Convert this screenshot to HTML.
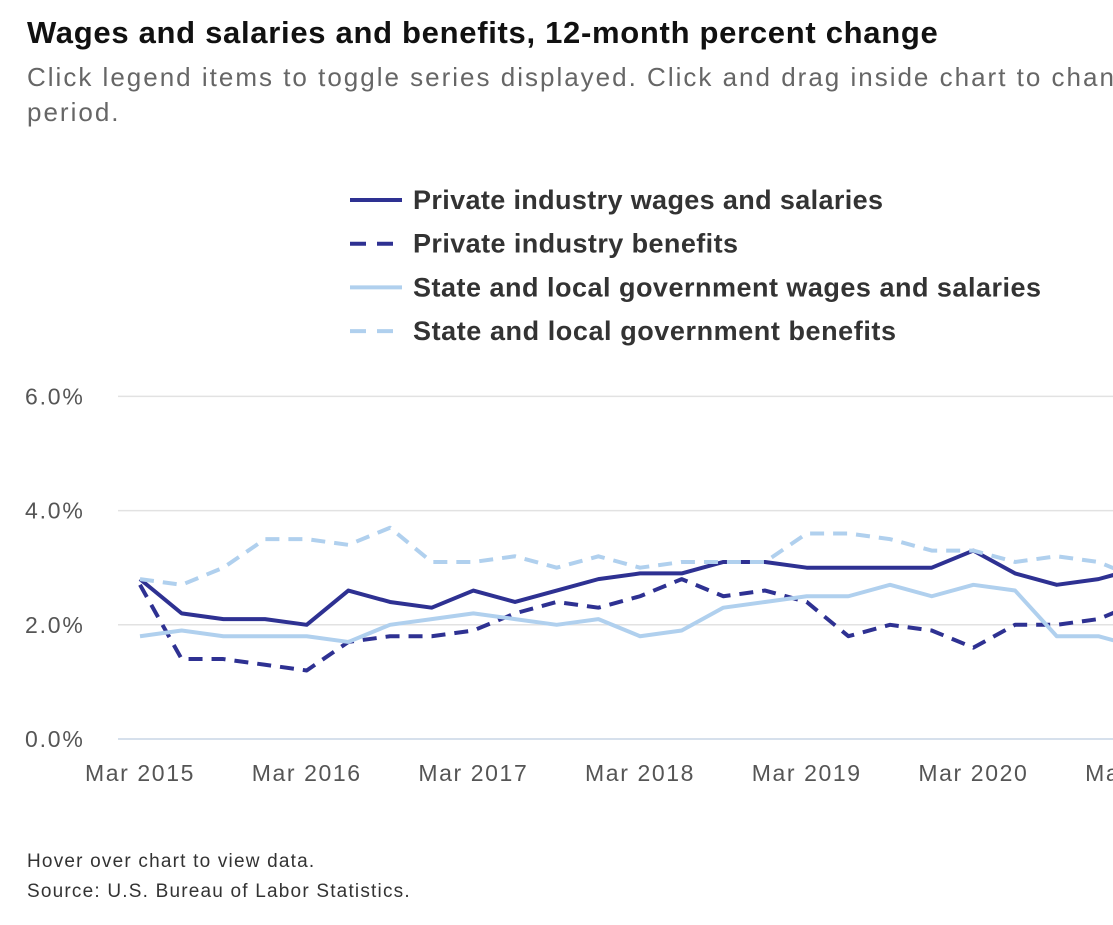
<!DOCTYPE html>
<html><head><meta charset="utf-8"><style>
body{margin:0;width:1113px;height:925px;overflow:hidden;background:#fff;font-family:"Liberation Sans",sans-serif;position:relative}
.t{position:absolute;left:27px;top:15px;font-size:31px;font-weight:bold;color:#111;white-space:nowrap;letter-spacing:0.7px}
.s{position:absolute;left:27px;top:60px;width:1086px;overflow:hidden;font-size:26px;color:#666;line-height:35px;white-space:nowrap;letter-spacing:2.0px}
.f{position:absolute;left:27px;font-size:19px;color:#333;white-space:nowrap;letter-spacing:1.2px}
</style></head><body>
<div class="t">Wages and salaries and benefits, 12-month percent change</div>
<div class="s">Click legend items to toggle series displayed. Click and drag inside chart to change the time<br>period.</div>
<svg id="c" width="1113" height="925" style="position:absolute;left:0;top:0"></svg>
<div class="f" style="top:851px">Hover over chart to view data.</div>
<div class="f" style="top:881px">Source: U.S. Bureau of Labor Statistics.</div>
<script>
const yTicks=[0,2,4,6];
const xLabels=["Mar 2015","Mar 2016","Mar 2017","Mar 2018","Mar 2019","Mar 2020","Mar 2021"];
const seriesNames=["Private industry wages and salaries","Private industry benefits","State and local government wages and salaries","State and local government benefits"];
const privWages=[2.8,2.2,2.1,2.1,2.0,2.6,2.4,2.3,2.6,2.4,2.6,2.8,2.9,2.9,3.1,3.1,3.0,3.0,3.0,3.0,3.3,2.9,2.7,2.8,3.0];
const privBenefits=[2.7,1.4,1.4,1.3,1.2,1.7,1.8,1.8,1.9,2.2,2.4,2.3,2.5,2.8,2.5,2.6,2.4,1.8,2.0,1.9,1.6,2.0,2.0,2.1,2.4];
const stateWages=[1.8,1.9,1.8,1.8,1.8,1.7,2.0,2.1,2.2,2.1,2.0,2.1,1.8,1.9,2.3,2.4,2.5,2.5,2.7,2.5,2.7,2.6,1.8,1.8,1.6];
const stateBenefits=[2.8,2.7,3.0,3.5,3.5,3.4,3.7,3.1,3.1,3.2,3.0,3.2,3.0,3.1,3.1,3.1,3.6,3.6,3.5,3.3,3.3,3.1,3.2,3.1,2.8];
const legendWidths=[470,325,628,483];
const svg=document.getElementById('c');const NS='http://www.w3.org/2000/svg';
const x=i=>140+i*41.67, y=v=>739-v*57.1;
function mk(t,a){const e=document.createElementNS(NS,t);for(const k in a)e.setAttribute(k,a[k]);svg.appendChild(e);return e;}
yTicks.forEach(v=>{
 const l=mk('line',{x1:118,x2:1113,y1:y(v),y2:y(v),stroke:v==0?'#c8d6e6':'#e2e2e2','stroke-width':1.5});
 
 
 const t=mk('text',{x:25,y:y(v)+8,'font-size':23,fill:'#555','font-family':'Liberation Sans','letter-spacing':'1.8'});t.textContent=v.toFixed(1)+'%';
 
 
});
xLabels.forEach((s,k)=>{
 const t=mk('text',{x:x(k*4),y:781,'font-size':23,fill:'#555','text-anchor':'middle','font-family':'Liberation Sans','letter-spacing':'1.6'});t.textContent=s;
 
 
});
const styles=[['#2e3192',''],['#2e3192','14 9'],['#b0d0ee',''],['#b0d0ee','14 9']];
[privWages,privBenefits,stateWages,stateBenefits].forEach((d,k)=>{
 const p=mk('polyline',{points:d.map((v,i)=>x(i)+','+y(v)).join(' '),fill:'none',stroke:styles[k][0],'stroke-width':4,'stroke-dasharray':styles[k][1],'stroke-linejoin':'round'});
 
 
});
seriesNames.forEach((s,k)=>{
 const yy=200+k*43.7;
 const l=mk('line',{x1:350,x2:402,y1:yy,y2:yy,stroke:styles[k][0],'stroke-width':4,'stroke-dasharray':styles[k][1]?'16 11':''});
 
 
 const t=mk('text',{x:413,y:yy+9,'font-size':27,fill:'#333','font-weight':'bold','font-family':'Liberation Sans','textLength':legendWidths[k],'lengthAdjust':'spacing'});
 t.textContent=s;
 
 
});
</script>
</body></html>
